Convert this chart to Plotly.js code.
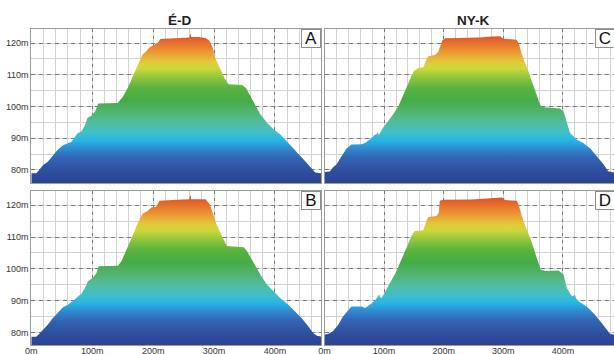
<!DOCTYPE html>
<html><head><meta charset="utf-8">
<script src="https://cdn.plot.ly/plotly-3.0.1.min.js"></script>
<style>html,body{margin:0;padding:0;overflow:hidden;background:#fff;width:614px;height:354px}#chart{width:620px;height:354px}</style>
</head><body><div id="chart"></div><script>
// ---- data (distance in m, elevation in m) ----
const distA = [0,8,12,19,27,35,43,52,60,66,70,76,82,88,92,99,105,110,142,150,158,166,175,183,188,194,202,208,212,230,245,258,259.5,261,262.5,275,286,292,298,302,310,318,324,346,352,360,368,376,387,398,409,420,431,441,452,460,466,476];
const elevA = [79.0,79.0,79.8,81.5,82.6,84.6,86.3,87.8,88.5,88.9,90.0,91.6,92.1,94.0,96.4,97.2,98.6,101.0,101.1,103.0,105.8,109.5,113.2,116.5,117.3,118.6,119.5,120.2,121.3,121.5,121.7,121.8,121.8,123.2,121.9,121.9,121.6,120.8,118.5,115.3,112.2,108.7,107.0,106.8,105.9,103.2,100.2,97.6,94.9,92.8,91.2,89.0,86.9,84.6,82.3,80.7,79.2,79.0];
const distB = [0,8,14,19,27,35,44,52,60,68,77,82,88,93,101,107,110.5,142,148,158,167,175,183,191,197,205,210.5,240,258,259.5,261,262.5,286,293,298.5,304,313,321,349,354,365,376,387,398,409,422,433,444,455,463,469,476];
const elevB = [78.7,78.7,79.8,80.8,82.4,84.5,86.4,87.9,88.7,89.8,91.4,92.1,94.0,96.1,97.2,98.7,100.8,101.0,102.4,106.6,110.8,114.5,117.4,118.2,119.3,119.5,121.4,121.7,121.8,121.9,123.4,121.9,121.9,120.3,117.2,114.0,110.3,107.2,106.8,105.6,101.9,98.2,95.0,92.9,90.8,88.7,86.6,84.5,81.9,79.8,79.0,78.7];
const distC = [0,9,14,20,28,37,45,62,68,76,84,88,89.5,91,98,107,115,124,132,140,149,157,166,171,174,186,191,195,198,203,230,260,280,295,300,322,326,331,340,348,356,362,368,384,395,401,407,412,423,434,446,457,468,476,487];
const elevC = [79.4,79.5,80.8,81.7,84.2,86.8,88.0,88.1,88.5,89.6,91.0,91.4,92.0,91.0,93.2,95.4,97.5,100.1,103.7,107.4,111.0,112.2,112.4,114.8,115.8,116.3,117.3,119.5,121.0,121.5,121.6,121.8,122.1,122.2,121.4,121.1,120.0,116.4,112.2,108.0,103.2,100.4,99.8,99.6,99.4,98.5,94.3,91.7,89.6,88.5,86.8,84.4,81.8,79.6,79.2];
const distD = [0,9,14.5,23,31,40,45,62,68,76,84.5,92,93,95.6,104,112,121,129,138,146,151.5,165.6,171,174,188,191.8,193.5,199,247,267,297.5,303,322.6,325.5,331,339.5,348,356,363,370,392.6,401,406.6,415,420.6,422,426,440,451,462.6,471,479.4,487];
const elevD = [79.3,79.8,80.5,82.4,85.0,87.2,88.2,88.2,87.7,88.7,90.0,92.0,91.2,90.8,93.5,96.1,99.3,102.9,106.6,110.3,111.9,112.1,115.0,116.3,116.6,117.7,121.4,121.7,121.8,122.1,122.4,121.6,121.4,120.3,116.6,112.4,108.2,103.5,99.8,99.3,99.5,98.2,94.0,91.4,91.7,90.8,89.8,88.2,86.1,83.5,81.4,79.5,79.3];
const panelLabels = ['A','B','C','D'];
const columnTitles = ['É-D','NY-K'];
const xTickVals = [0,100,200,300,400];
const xTickText = ['0m','100m','200m','300m','400m'];
const yTickVals = [80,90,100,110,120];
const yTickText = ['80m','90m','100m','110m','120m'];

// ---- layout helpers ----
const W = 620, H = 354;
const fx = px => px / W;
const fy = py => 1 - py / H;

const scale = [
  [0.000,'#2c4192'],[0.083,'#2f50a0'],[0.167,'#3367b6'],[0.229,'#2f8ed3'],
  [0.271,'#26b2e5'],[0.323,'#3fbfcc'],[0.396,'#52bd9c'],[0.458,'#52b574'],
  [0.542,'#45ab45'],[0.625,'#5bb43f'],[0.688,'#8fc43d'],[0.750,'#cdd83b'],
  [0.792,'#e3c93a'],[0.854,'#eb9a34'],[0.917,'#e6702c'],[0.979,'#dc4a26'],[1.0,'#d84424']
];

function profile(x, y, xa, ya) {
  return {
    x: x, y: y, xaxis: xa, yaxis: ya, type: 'scatter', mode: 'lines',
    line: {width: 0, color: 'rgba(0,0,0,0)'},
    fill: 'tozeroy',
    fillgradient: {type: 'vertical', colorscale: scale, start: 76, stop: 124},
    hoverinfo: 'skip', showlegend: false
  };
}

const data = [
  profile(distA, elevA, 'x', 'y'),
  profile(distC, elevC, 'x2', 'y2'),
  profile(distB, elevB, 'x3', 'y3'),
  profile(distD, elevD, 'x4', 'y4')
];

const tickFont = {family: 'Liberation Sans, Arial, sans-serif', size: 9, color: '#333'};

function xaxis(dom, rng, anchor, labels) {
  return {
    domain: dom, range: rng, anchor: anchor,
    tickmode: 'array', tickvals: xTickVals, ticktext: xTickText,
    showticklabels: labels, ticks: '', tickfont: tickFont, ticklabelstandoff: -3,
    showgrid: true, gridcolor: '#7a7a7a', griddash: '3px,4px', gridwidth: 1,
    minor: {tickmode: 'linear', tick0: 0, dtick: 20, showgrid: true, gridcolor: '#d2d2d2', gridwidth: 1, griddash: 'solid'},
    showline: true, linecolor: '#9c9c9c', linewidth: 1, mirror: true, zeroline: false, fixedrange: true
  };
}
function yaxis(dom, rng, anchor, labels) {
  return {
    domain: dom, range: rng, anchor: anchor,
    tickmode: 'array', tickvals: yTickVals, ticktext: yTickText,
    showticklabels: labels, ticks: '', tickfont: tickFont,
    showgrid: true, gridcolor: '#7a7a7a', griddash: '4px,4px', gridwidth: 1,
    minor: {tickmode: 'linear', tick0: 0, dtick: 5, showgrid: true, gridcolor: '#d2d2d2', gridwidth: 1, griddash: 'solid'},
    showline: true, linecolor: '#9c9c9c', linewidth: 1, mirror: true, zeroline: false, fixedrange: true
  };
}

const leftDom = [fx(31.3), fx(321)];
const rightDom = [fx(324.5), fx(615)];
const topDom = [fy(183), fy(29)];
const botDom = [fy(345), fy(190.7)];

const anns = [];
columnTitles.forEach((t, i) => {
  anns.push({xref: 'paper', yref: 'paper', x: fx(i === 0 ? 179.7 : 473.3), y: fy(20.7),
    xanchor: 'center', yanchor: 'middle', showarrow: false, text: '<b>' + t + '</b>',
    font: {family: 'Liberation Sans, Arial, sans-serif', size: 13.5, color: '#222'}});
});
const corners = [[321, 29], [615, 29], [321, 190.7], [615, 190.7]];
const order = [0, 2, 1, 3]; // A top-left, B bottom-left, C top-right, D bottom-right
panelLabels.forEach((lab, i) => {
  const c = corners[order[i]];
  anns.push({xref: 'paper', yref: 'paper', x: fx(c[0]), y: fy(c[1]),
    xanchor: 'right', yanchor: 'top', showarrow: false, text: lab,
    width: 18, height: 17, align: 'center', valign: 'middle',
    bgcolor: '#ffffff', bordercolor: '#8c8c8c', borderwidth: 1, borderpad: 0,
    font: {family: 'Liberation Sans, Arial, sans-serif', size: 17, color: '#111'}});
});

const layout = {
  width: W, height: H, margin: {l: 0, r: 0, t: 0, b: 0},
  paper_bgcolor: '#fff', plot_bgcolor: '#fff', showlegend: false,
  xaxis: xaxis(leftDom, [0, 475.6], 'y', false),
  yaxis: yaxis(topDom, [75.9, 124.45], 'x', true),
  xaxis2: xaxis(rightDom, [0, 487.4], 'y2', false),
  yaxis2: yaxis(topDom, [75.9, 124.45], 'x2', false),
  xaxis3: xaxis(leftDom, [0, 475.6], 'y3', true),
  yaxis3: yaxis(botDom, [76.07, 124.56], 'x3', true),
  xaxis4: xaxis(rightDom, [0, 487.4], 'y4', true),
  yaxis4: yaxis(botDom, [76.07, 124.56], 'x4', false),
  annotations: anns
};

Plotly.newPlot('chart', data, layout, {staticPlot: true, displayModeBar: false});
</script></body></html>
